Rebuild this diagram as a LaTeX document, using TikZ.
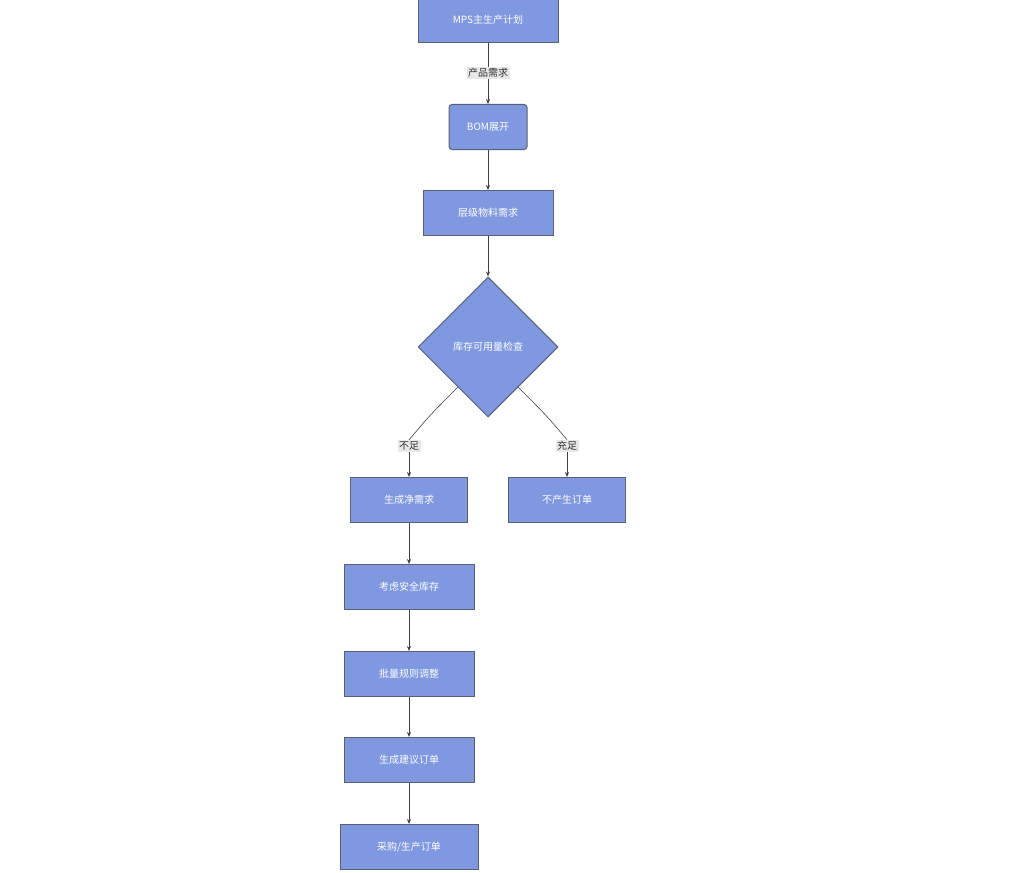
\documentclass[tikz,border=0pt]{standalone}
\usepackage{fontspec}
\setmainfont{Noto Sans CJK SC}
\usetikzlibrary{shapes.geometric, arrows.meta}
\definecolor{boxfill}{HTML}{7F98E0}
\definecolor{boxline}{HTML}{5A5F73}
\definecolor{lblfill}{HTML}{E8E8E8}
\begin{document}
\begin{tikzpicture}[x=1pt, y=-1pt, font=\fontsize{10}{12}\selectfont,
    box/.style={draw=boxline, line width=1pt, fill=boxfill, text=white, minimum height=45pt, inner sep=0pt},
    check/.style={draw=boxline, line width=1pt, fill=boxfill, text=white, diamond, minimum width=140pt, minimum height=140pt, inner sep=0pt},
    lbl/.style={fill=lblfill, inner sep=1.5pt, text=black!80},
    link/.style={draw=black!75, line width=0.6pt, -{Stealth[length=5pt, width=4pt]}}]
    \useasboundingbox (0,0) rectangle (1024,872);

    % NODES
    \node[box, minimum width=140pt] (mps) at (488,20) {MPS主生产计划};
    \node[box, minimum width=78pt, rounded corners=3pt] (bom) at (488,127) {BOM展开};
    \node[box, minimum width=130pt] (level) at (488,213) {层级物料需求};
    \node[check] (stock) at (488,347) {库存可用量检查};
    \node[box, minimum width=117pt] (net) at (409,500) {生成净需求};
    \node[box, minimum width=117pt] (none) at (567,500) {不产生订单};
    \node[box, minimum width=130pt] (safe) at (409,587) {考虑安全库存};
    \node[box, minimum width=130pt] (lot) at (409,674) {批量规则调整};
    \node[box, minimum width=130pt] (plan) at (409,760) {生成建议订单};
    \node[box, minimum width=138pt] (order) at (409,847) {采购/生产订单};

    % LABELS
    \node[lbl] (demand) at (488,73) {产品需求};
    \node[lbl] (short) at (409,446) {不足};
    \node[lbl] (enough) at (567,446) {充足};

    % CONNECTORS
    \draw[draw=black!75, line width=0.6pt] (mps) -- (demand);
    \draw[link] (demand) -- (bom);
    \draw[link] (bom) -- (level);
    \draw[link] (level) -- (stock);
    \draw[draw=black!75, line width=0.6pt] (458,387) .. controls (430,415) .. (short.north);
    \draw[link] (short) -- (net);
    \draw[draw=black!75, line width=0.6pt] (518,387) .. controls (546,415) .. (enough.north);
    \draw[link] (enough) -- (none);
    \draw[link] (net) -- (safe);
    \draw[link] (safe) -- (lot);
    \draw[link] (lot) -- (plan);
    \draw[link] (plan) -- (order);
\end{tikzpicture}
\end{document}
